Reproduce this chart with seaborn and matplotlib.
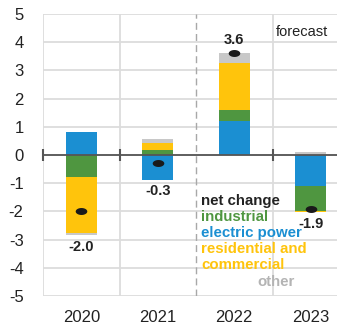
import numpy as np
import pandas as pd
import matplotlib.pyplot as plt
from matplotlib.path import Path
import seaborn as sns

years = ['2020', '2021', '2022', '2023']
series = ['electric power', 'industrial', 'residential and\ncommercial', 'other']
electric = [0.83, -0.87, 1.21, -1.10]
industrial = [-0.77, 0.18, 0.40, -0.88]
residential = [-1.99, 0.26, 1.65, -0.03]
other = [-0.09, 0.12, 0.36, 0.10]
net_change = [-2.0, -0.3, 3.6, -1.9]

colors = ['#1b8fd2', '#4f9640', '#ffc40c', '#c8c8c8']
text_colors = ['#1b8fd2', '#4f9640', '#ffc40c', '#b4b4b4']

sns.set_theme(style='white')
plt.rcParams['font.family'] = ['Liberation Sans', 'DejaVu Sans']
plt.rcParams['axes.unicode_minus'] = False

fig = plt.figure(figsize=(3.37, 3.26), dpi=100)
ax = fig.add_axes([43 / 337, 1 - 296 / 326, 306 / 337, 282 / 326])

vals = np.array([electric, industrial, residential, other])
pos = np.cumsum(np.clip(vals, 0, None), axis=0)
neg = np.cumsum(np.clip(vals, None, 0), axis=0)

# stacked bars by overdrawing cumulative sums, outermost layer first
for i in range(len(series) - 1, -1, -1):
    for cum in (pos, neg):
        df = pd.DataFrame({'year': years, 'v': cum[i]})
        sns.barplot(data=df, x='year', y='v', color=colors[i], width=0.4,
                    saturation=1, ax=ax, zorder=3, linewidth=0)

# pill shaped marker for the net change
t = np.linspace(0, 2 * np.pi, 40)
pill = Path(np.column_stack([np.cos(t), 0.6 * np.sin(t)]))
df_net = pd.DataFrame({'year': years, 'net': net_change})
sns.scatterplot(data=df_net, x='year', y='net', color='#1a1a1a', marker=pill,
                s=70, ax=ax, zorder=5, linewidth=0)

for j, v in enumerate(net_change):
    if v >= 0:
        y = pos[-1][j] + 0.45
    else:
        y = neg[-1][j] - 0.42
    ax.text(j, y, f'{v:.1f}', ha='center', va='center', fontsize=10.5,
            fontweight='bold', color='#222222', zorder=6)

ax.set_xlim(-0.5, 3.5)
ax.set_ylim(-5, 5)
ax.set_yticks(range(-5, 6))
ax.set_xlabel('')
ax.set_ylabel('')
ax.tick_params(axis='both', length=0, labelsize=12, colors='#222222')
ax.tick_params(axis='y', pad=14)
ax.tick_params(axis='x', pad=10)

for y in range(-5, 6):
    ax.axhline(y, color='#dcdcdc', lw=1.3, zorder=1)
for x in [-0.5, 0.5, 2.5]:
    ax.axvline(x, color='#dcdcdc', lw=1.3, zorder=1)
ax.axvline(1.5, color='#a8a8a8', lw=1, ls=(0, (5, 3)), zorder=1)
ax.axhline(0, color='#555555', lw=1.3, zorder=4)
ax.plot([-0.5, 0.5, 2.5], [0, 0, 0], ls='none', marker='|', ms=8,
        mew=1.5, color='#555555', zorder=4, clip_on=False)
for s in ax.spines.values():
    s.set_visible(False)

ax.text(2.55, 4.35, 'forecast', fontsize=10.5, color='#222222', va='center')

ax.text(1.57, -1.62, 'net change', fontsize=10.8, fontweight='bold', color='#222222', va='center')
ax.text(1.57, -2.2, 'industrial', fontsize=10.8, fontweight='bold', color=text_colors[1], va='center')
ax.text(1.57, -2.77, 'electric power', fontsize=10.8, fontweight='bold', color=text_colors[0], va='center')
ax.text(1.57, -3.34, 'residential and', fontsize=10.8, fontweight='bold', color=text_colors[2], va='center')
ax.text(1.57, -3.91, 'commercial', fontsize=10.8, fontweight='bold', color=text_colors[2], va='center')
ax.text(2.3, -4.5, 'other', fontsize=10.8, fontweight='bold', color=text_colors[3], va='center')

fig.savefig('out.png', dpi=100)
